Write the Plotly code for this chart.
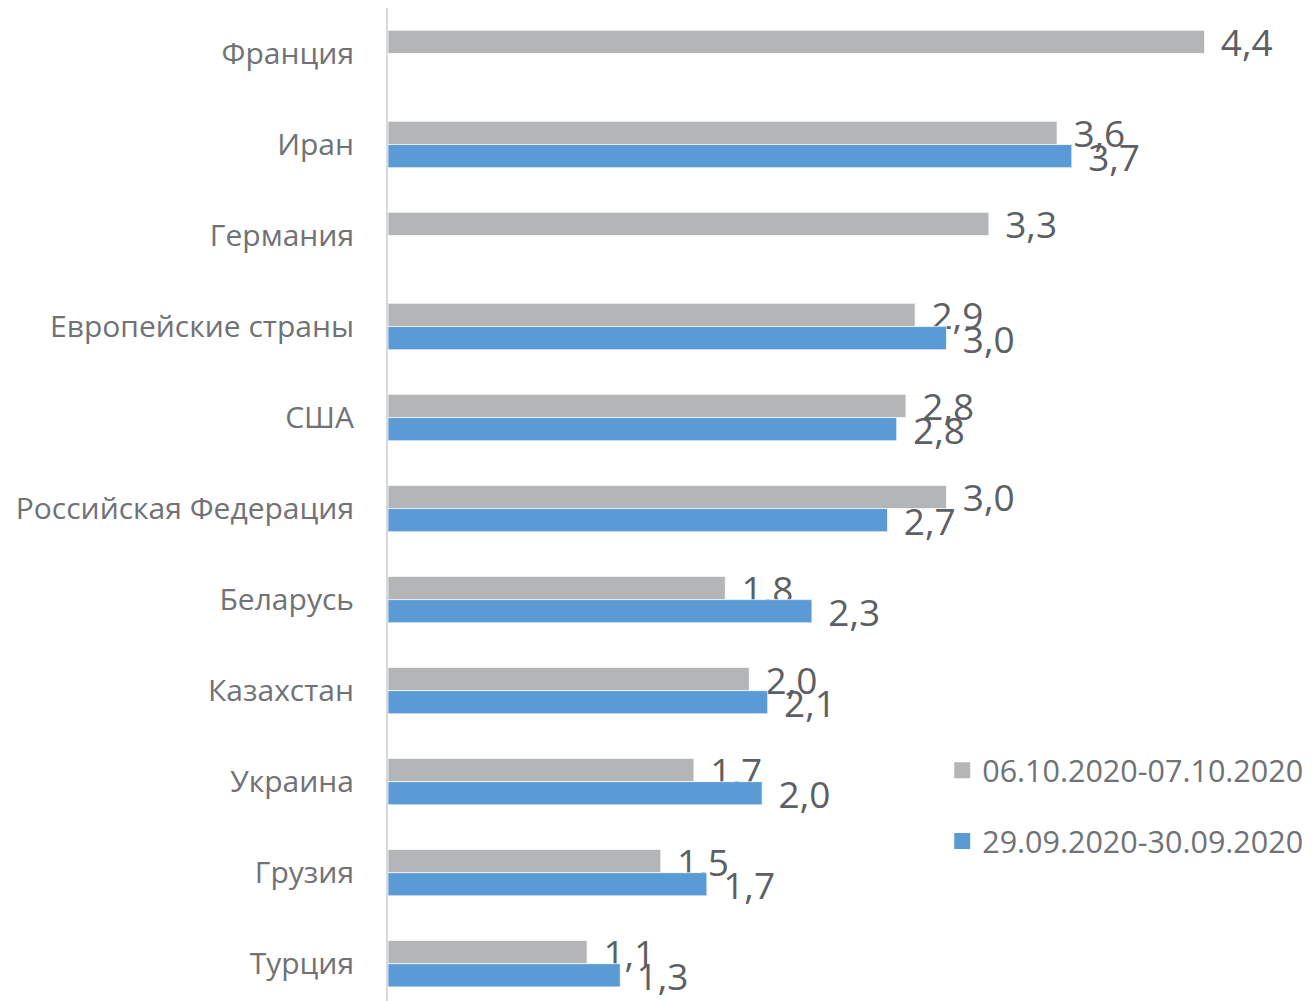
import plotly.graph_objects as go

categories = ["Франция", "Иран", "Германия", "Европейские страны", "США",
              "Российская Федерация", "Беларусь", "Казахстан", "Украина",
              "Грузия", "Турция"]
series_oct = [4.43, 3.63, 3.26, 2.86, 2.81, 3.03, 1.83, 1.96, 1.66, 1.48, 1.08]
series_sep = [None, 3.71, None, 3.03, 2.76, 2.71, 2.30, 2.06, 2.03, 1.73, 1.26]
name_oct = "06.10.2020-07.10.2020"
name_sep = "29.09.2020-30.09.2020"

GRAY = "#b4b5b7"
BLUE = "#5b9bd5"
FONT = "Open Sans"
LBL = "#5c5f63"
CAT = "#707276"

fig = go.Figure()
for vals, name, col in [(series_oct, name_oct, GRAY), (series_sep, name_sep, BLUE)]:
    fig.add_trace(go.Bar(
        y=categories, x=vals, orientation="h", name=name,
        marker=dict(color=col, line=dict(color="rgba(255,255,255,0.7)", width=1)),
        texttemplate="\u00a0\u200a%{x:.1f}", textposition="outside", cliponaxis=False,
        constraintext="none",
        textfont=dict(family=FONT, size=37, color=LBL),
        showlegend=False, hoverinfo="skip",
    ))
for name, col, grp in [(name_oct, GRAY, "a"), (name_sep, BLUE, "b")]:
    fig.add_trace(go.Scatter(
        x=[None], y=[None], mode="markers", name=name, legendgroup=grp,
        marker=dict(symbol="square", size=20, color=col),
        showlegend=True,
    ))

fig.update_layout(
    width=1306, height=993,
    margin=dict(l=380, r=0, t=0, b=0),
    paper_bgcolor="white", plot_bgcolor="white",
    barmode="group", bargap=0.49, bargroupgap=0,
    separators=",.",
    font=dict(family=FONT, color=CAT),
    xaxis=dict(range=[0, 5.024], showgrid=False, zeroline=False,
               showticklabels=False, showline=False, fixedrange=True),
    yaxis=dict(type="category", categoryorder="array", categoryarray=categories,
               range=[10.41, -0.5], showgrid=False, zeroline=False,
               showline=True, linecolor="#d9d9d9", linewidth=2,
               ticks="", ticklabelstandoff=26,
               tickfont=dict(family=FONT, size=30, color=CAT)),
    legend=dict(x=0.5985, xanchor="left", y=0.2588, yanchor="top",
                traceorder="grouped", tracegroupgap=28,
                itemsizing="trace", itemwidth=30,
                font=dict(family=FONT, size=30.5, color=CAT),
                bgcolor="rgba(0,0,0,0)"),
    showlegend=True,
)

fig.write_html("out.html")
